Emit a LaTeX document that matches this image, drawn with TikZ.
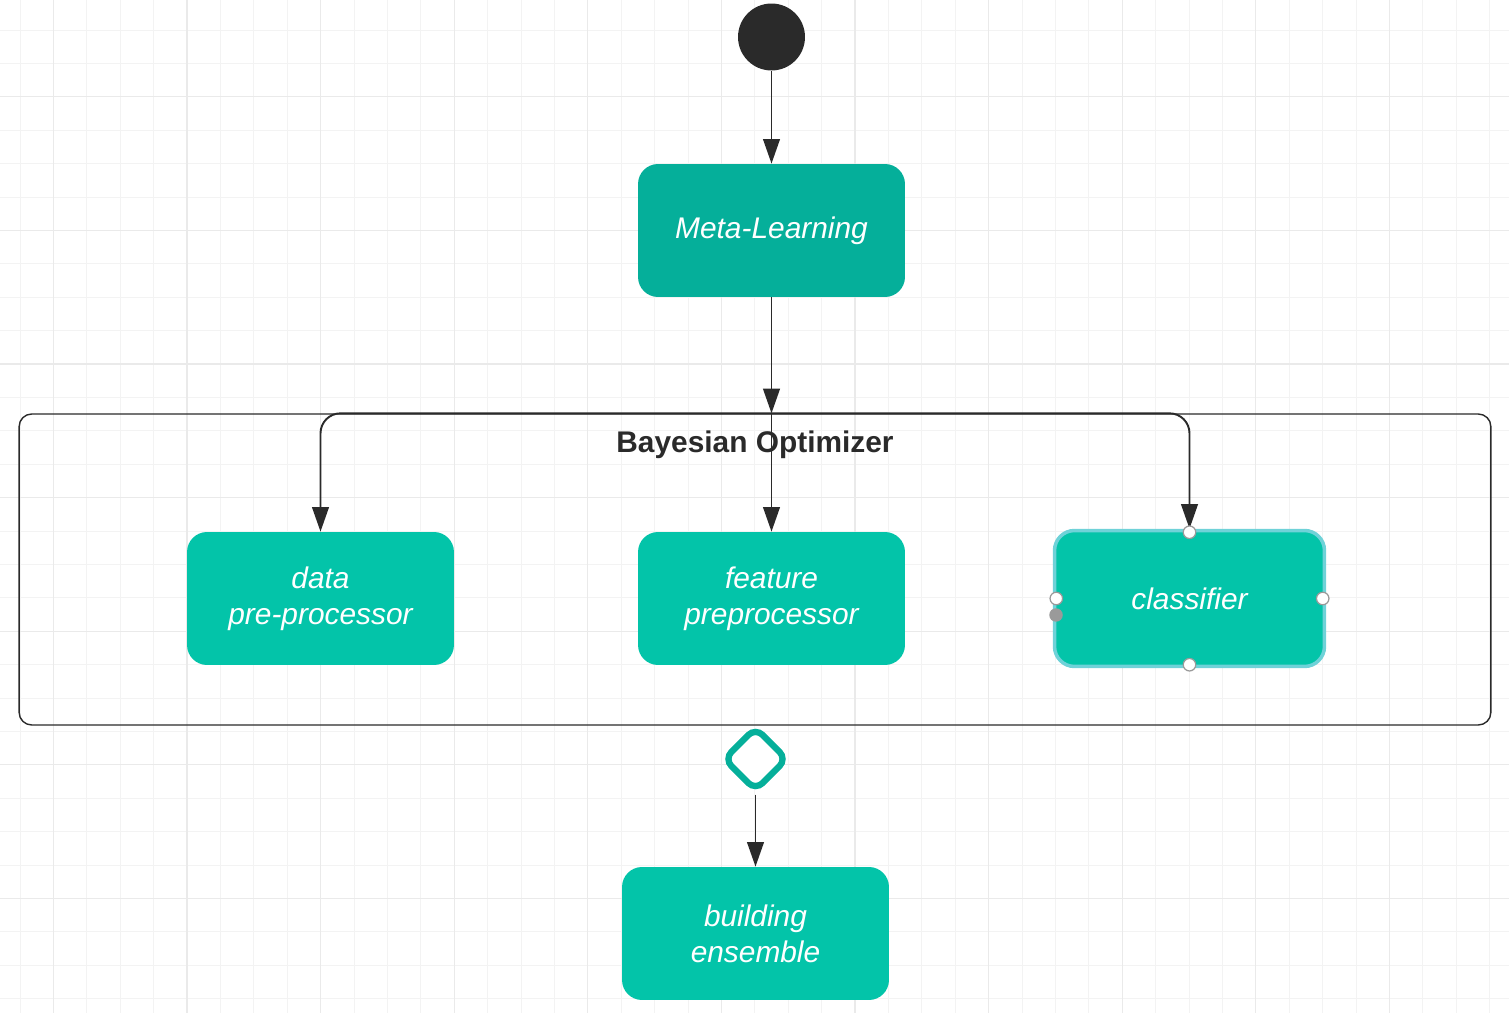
\documentclass[tikz,border=0pt]{standalone}
\usepackage{fontspec}
\setmainfont{Liberation Sans}
\usepackage{xcolor}
\usepackage{tikz}
\usetikzlibrary{positioning, arrows.meta, shapes.geometric}
\definecolor{gridMinor}{HTML}{F3F3F3}
\definecolor{gridMajor}{HTML}{EAEAEA}
\definecolor{stepTeal}{HTML}{03C4A9}
\definecolor{metaTeal}{HTML}{05AF9A}
\definecolor{selCyan}{HTML}{6FD2D8}
\definecolor{inkDark}{HTML}{2A2A2A}
\definecolor{handleGray}{HTML}{9A9A9A}

\begin{document}
\begin{tikzpicture}[x=0.02cm, y=-0.02cm,
  activity/.style={fill=stepTeal, rounded corners=0.4cm, minimum width=5.34cm,
    minimum height=2.66cm, align=center, text=white,
    font=\fontsize{17}{20.5}\selectfont\itshape},
  flow/.style={-{Triangle[length=14pt, width=9.5pt]}, line width=1.1pt, color=inkDark},
  handle/.style={circle, draw=handleGray, fill=white, inner sep=0pt,
    minimum size=0.25cm, line width=0.7pt}]
  \useasboundingbox (0, 0) rectangle (1509, 1013);
  % background grid
  \foreach \i in {0,...,44}
    \draw[gridMinor, line width=0.5pt] ({20+33.4*\i}, 0) -- ({20+33.4*\i}, 1013);
  \foreach \i in {0,...,29}
    \draw[gridMinor, line width=0.5pt] (0, {30+33.4*\i}) -- (1509, {30+33.4*\i});
  \foreach \i in {0,...,10}
    \draw[gridMajor, line width=0.6pt] ({53.4+133.6*\i}, 0) -- ({53.4+133.6*\i}, 1013);
  \foreach \i in {0,...,6}
    \draw[gridMajor, line width=0.6pt] (0, {96.8+133.6*\i}) -- (1509, {96.8+133.6*\i});

  % nodes
  \node[circle, fill=inkDark, minimum size=1.34cm, inner sep=0pt] (start) at (771.5, 37) {};
  \node[activity, fill=metaTeal] (meta) at (771.5, 230.5) {Meta-Learning};
  \node[draw=inkDark, line width=0.8pt, rounded corners=0.25cm, minimum width=29.44cm,
    minimum height=6.22cm] (bayes) at (755, 569.5) {};
  \node[font=\fontsize{17}{20}\selectfont\bfseries, text=inkDark] (bayesTitle) at (755, 445) {Bayesian Optimizer};
  \node[activity] (dataproc) at (320.5, 598.5) {data\\pre-processor};
  \node[activity] (featproc) at (771.5, 598.5) {feature\\preprocessor};
  \node[activity, draw=selCyan, line width=2pt, minimum width=5.4cm, minimum height=2.72cm] (classif) at (1189.5, 598.5) {classifier};
  \node[diamond, draw=metaTeal, line width=3.6pt, fill=white, minimum size=1.3cm,
    rounded corners=0.2cm, inner sep=0pt] (merge) at (755.5, 759) {};
  \node[activity] (ensemble) at (755.5, 933.5) {building\\ensemble};
  \coordinate (split) at (meta.south |- bayes.north);

  % connectors
  \draw[flow] (start) -- (meta);
  \draw[flow] (meta) -- (split);
  \draw[flow, rounded corners=0.4cm] (split) -| (dataproc.north);
  \draw[flow] (split) -- (featproc);
  \draw[flow, rounded corners=0.4cm] (split) -| (classif.north);
  \draw[flow] (merge) -- (ensemble);

  % selection handles
  \node[handle] (handleN) at ([yshift=-2pt]classif.north) {};
  \node[handle] (handleS) at ([yshift=2pt]classif.south) {};
  \node[handle] (handleW) at ([xshift=2pt]classif.west) {};
  \node[handle] (handleE) at ([xshift=-2pt]classif.east) {};
  \node[circle, fill=handleGray, minimum size=0.27cm, inner sep=0pt] (handleDot) at (1056, 615) {};
\end{tikzpicture}
\end{document}
